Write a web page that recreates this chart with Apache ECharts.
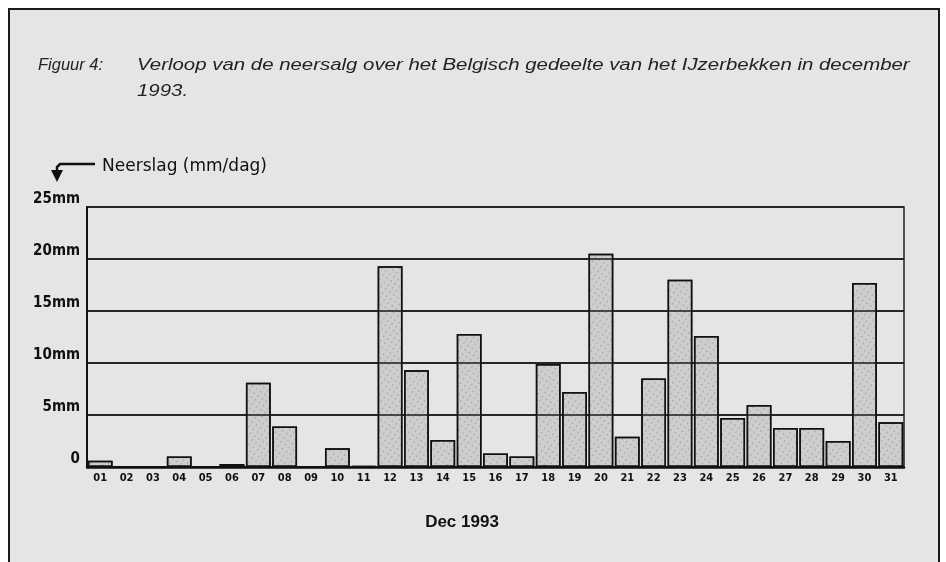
<!DOCTYPE html>
<html>
<head>
<meta charset="utf-8">
<script src="https://cdn.jsdelivr.net/npm/echarts@6/dist/echarts.min.js"></script>
<style>
html,body{margin:0;padding:0;background:#fff;}
#chart{width:946px;height:562px;}
</style>
</head>
<body>
<div id="chart"></div>
<script>
const days = ['01','02','03','04','05','06','07','08','09','10','11','12','13','14','15','16','17','18','19','20','21','22','23','24','25','26','27','28','29','30','31'];
const rainfall = [0.6,0,0,1.0,0,0.3,8.1,3.9,0,1.8,0.1,19.3,9.3,2.6,12.8,1.3,1.0,9.9,7.2,20.5,2.9,8.5,18.0,12.6,4.7,5.95,3.75,3.75,2.5,17.7,4.3];
const yTickValues = [0,5,10,15,20,25];
const yTickLabels = ['0','5mm','10mm','15mm','20mm','25mm'];
const titleLine1a = 'Figuur 4:';
const titleLine1b = 'Verloop van de neersalg over het Belgisch gedeelte van het IJzerbekken in december';
const titleLine2 = '1993.';
const yName = 'Neerslag (mm/dag)';
const xName = 'Dec 1993';

const chart = echarts.init(document.getElementById('chart'), null, {renderer:'canvas'});
const labelFont = 'DejaVu Sans Condensed';
const gridLines = yTickValues.filter(v => v > 0 && v < 25).map(v => ({yAxis:v}));
chart.setOption({
  animation:false,
  backgroundColor:'#ffffff',
  graphic:[
    {type:'rect', shape:{x:9,y:9,width:930,height:560}, style:{fill:'#e5e5e5', stroke:'#1a1a1a', lineWidth:2}, z:-10},
    {type:'text', x:38, y:57, scaleX:0.97, style:{text:titleLine1a, font:'italic 17px "Liberation Sans"', fill:'#222'}},
    {type:'text', x:137, y:57, scaleX:1.2, style:{text:titleLine1b, font:'italic 17px "Liberation Sans"', fill:'#222'}},
    {type:'text', x:137, y:83, scaleX:1.2, style:{text:titleLine2, font:'italic 17px "Liberation Sans"', fill:'#222'}},
    {type:'text', x:102, y:157, scaleX:1.05, style:{text:yName, font:'18px "DejaVu Sans Condensed"', fill:'#111'}},
    {type:'polyline', shape:{points:[[95,164],[60,164],[57,167],[57,172]]}, style:{stroke:'#111', lineWidth:2.5, fill:null}},
    {type:'polygon', shape:{points:[[51,170],[63,170],[57,182]]}, style:{fill:'#111'}},
    {type:'text', x:462, y:514, style:{text:xName, font:'bold 17px "Liberation Sans"', fill:'#111', align:'center'}}
  ],
  grid:{left:87, right:42, top:207, bottom:95, show:true, borderColor:'#222', borderWidth:1.5, backgroundColor:'transparent'},
  xAxis:{
    type:'category', data:days,
    axisLine:{lineStyle:{color:'#111', width:2.5}},
    axisTick:{show:false},
    axisLabel:{margin:6, color:'#111', fontFamily:labelFont, fontWeight:'bold', fontSize:11, interval:0}
  },
  yAxis:{
    type:'value', min:0, max:25, interval:5,
    axisLine:{show:true, lineStyle:{color:'#111', width:2}},
    axisTick:{show:false},
    splitLine:{lineStyle:{color:'#1a1a1a', width:1.5}},
    axisLabel:{formatter:v=>yTickLabels[yTickValues.indexOf(v)], verticalAlign:'bottom', margin:7, color:'#111', fontFamily:labelFont, fontWeight:'bold', fontSize:15}
  },
  series:[{
    type:'bar', data:rainfall, barCategoryGap:'6%',
    itemStyle:{
      color:'#cecece', borderColor:'#111', borderWidth:1.5,
      decal:{symbol:'circle', symbolSize:0.7, dashArrayX:[3,2], dashArrayY:[2,3], rotation:0.6, color:'rgba(60,60,60,0.4)'}
    },
    markLine:{
      silent:true, symbol:'none', label:{show:false}, animation:false,
      lineStyle:{color:'#1a1a1a', width:1.5, type:'solid'},
      emphasis:{disabled:true},
      data:gridLines
    }
  }]
});
</script>
</body>
</html>
